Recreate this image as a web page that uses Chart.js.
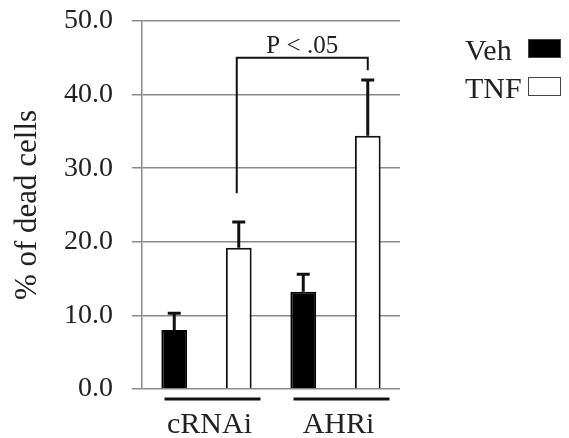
<!DOCTYPE html>
<html>
<head>
<meta charset="utf-8">
<script src="https://cdn.jsdelivr.net/npm/chart.js@4.4.1/dist/chart.umd.min.js"></script>
<style>
  html, body { margin: 0; padding: 0; background: #fff; }
  #wrap { width: 569px; height: 438px; }
</style>
</head>
<body>
<div id="wrap"><canvas id="chart"></canvas></div>
<script>
const categories = ['cRNAi', 'AHRi'];
const vehMeans = [8.0, 13.2];
const vehErr = [2.3, 2.4];     // upper error only
const tnfMeans = [19.2, 34.4];
const tnfErr = [3.5, 7.6];
const yTicks = [0, 10, 20, 30, 40, 50];
const bracketLevels = [26.6, 45.0, 43.3]; // left foot, top, right foot
const pText = 'P < .05';

const serif = '"Liberation Serif", "DejaVu Serif", serif';

// upper error bars
const errorBars = {
  id: 'errorBars',
  afterDatasetsDraw(chart) {
    const ctx = chart.ctx, y = chart.scales.y;
    const errs = [vehErr, tnfErr];
    ctx.save();
    ctx.strokeStyle = '#111';
    ctx.lineWidth = 3;
    chart.data.datasets.forEach((ds, i) => {
      chart.getDatasetMeta(i).data.forEach((bar, j) => {
        const top = y.getPixelForValue(ds.data[j] + errs[i][j]);
        ctx.beginPath();
        ctx.moveTo(bar.x, bar.y);
        ctx.lineTo(bar.x, top);
        ctx.moveTo(bar.x - 6.5, top);
        ctx.lineTo(bar.x + 6.5, top);
        ctx.stroke();
      });
    });
    ctx.restore();
  }
};

// significance bracket, group underlines, legend
const extras = {
  id: 'extras',
  afterDraw(chart) {
    const ctx = chart.ctx, x = chart.scales.x, y = chart.scales.y;
    const tnfBars = chart.getDatasetMeta(1).data;
    const xl = tnfBars[0].x - 2, xr = tnfBars[1].x;
    ctx.save();
    ctx.strokeStyle = '#111';
    ctx.lineWidth = 2;
    ctx.beginPath();
    ctx.moveTo(xl, y.getPixelForValue(bracketLevels[0]));
    ctx.lineTo(xl, y.getPixelForValue(bracketLevels[1]));
    ctx.lineTo(xr, y.getPixelForValue(bracketLevels[1]));
    ctx.lineTo(xr, y.getPixelForValue(bracketLevels[2]));
    ctx.stroke();

    ctx.fillStyle = '#222';
    ctx.font = '25px ' + serif;
    ctx.textAlign = 'center';
    ctx.textBaseline = 'alphabetic';
    ctx.fillText(pText, (xl + xr) / 2, y.getPixelForValue(bracketLevels[1]) - 5);

    // group underlines
    ctx.lineWidth = 3;
    categories.forEach((c, i) => {
      const cx = x.getPixelForValue(i) + 6;
      ctx.beginPath();
      ctx.moveTo(cx - 48, chart.chartArea.bottom + 10);
      ctx.lineTo(cx + 48, chart.chartArea.bottom + 10);
      ctx.stroke();
    });

    // legend: text then swatch
    ctx.font = '30px ' + serif;
    ctx.textAlign = 'left';
    chart.data.datasets.forEach((ds, i) => {
      const base = 60 + i * 38;
      ctx.fillStyle = '#222';
      ctx.fillText(ds.label, 465, base);
      ctx.fillStyle = ds.backgroundColor;
      ctx.fillRect(528, base - 21, 33, 19);
      ctx.lineWidth = 1;
      ctx.strokeStyle = '#444';
      ctx.strokeRect(528.5, base - 20.5, 32, 18);
    });
    ctx.restore();
  }
};

new Chart(document.getElementById('chart'), {
  type: 'bar',
  data: {
    labels: categories,
    datasets: [
      { label: 'Veh', data: vehMeans, backgroundColor: '#000', borderColor: '#000', borderWidth: 2 },
      { label: 'TNF', data: tnfMeans, backgroundColor: '#fff', borderColor: '#111', borderWidth: 2 }
    ]
  },
  options: {
    responsive: true,
    maintainAspectRatio: false,
    animation: false,
    layout: { padding: { top: 21, right: 169, left: 0, bottom: 0 } },
    datasets: { bar: { categoryPercentage: 1.0, barPercentage: 0.4 } },
    plugins: { legend: { display: false }, tooltip: { enabled: false } },
    scales: {
      x: {
        grid: { display: false },
        border: { display: false },
        ticks: { color: '#222', font: { family: serif, size: 30 }, padding: 10, labelOffset: 3 },
        afterFit(s) { s.height = 49; s.paddingLeft = 0; s.paddingRight = 0; }
      },
      y: {
        min: 0,
        max: 50,
        afterBuildTicks(s) { s.ticks = yTicks.map(v => ({ value: v })); },
        grid: { color: '#8a8a8a', lineWidth: 1.5, tickLength: 10 },
        border: { display: true, color: '#8a8a8a', width: 1.5 },
        ticks: {
          color: '#222',
          padding: 19,
          font: { family: serif, size: 28 },
          callback: v => Number(v).toFixed(1)
        },
        title: {
          display: true,
          text: '% of dead cells',
          color: '#222',
          font: { family: serif, size: 31 },
          padding: { top: 9, bottom: 0 }
        },
        afterFit(s) { s.width = 142; s.paddingTop = 0; s.paddingBottom = 0; }
      }
    }
  },
  plugins: [errorBars, extras]
});
</script>
</body>
</html>
